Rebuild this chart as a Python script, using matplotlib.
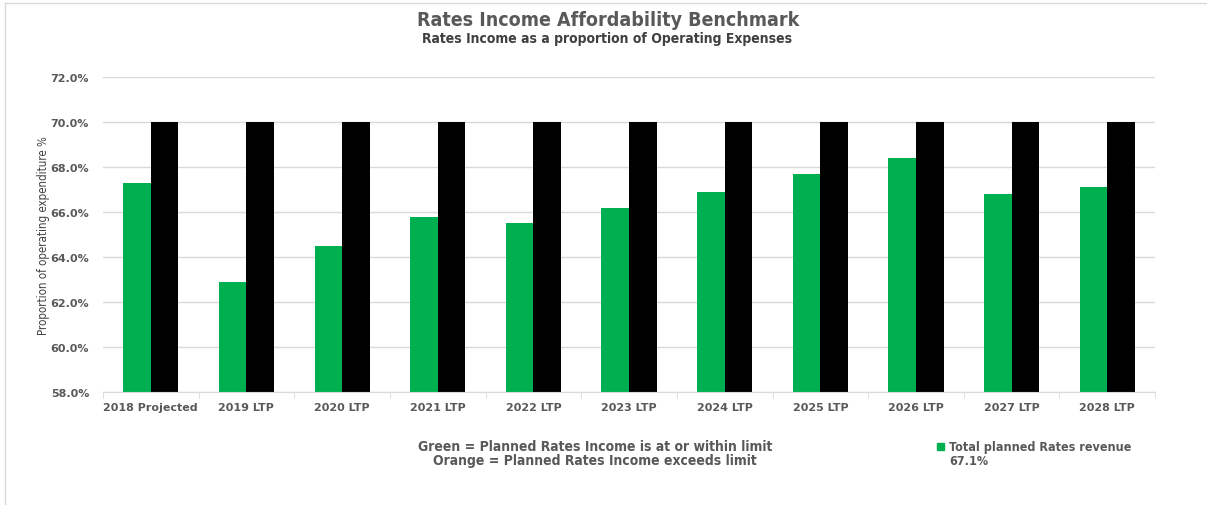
import matplotlib
matplotlib.use("Agg")
import matplotlib.pyplot as plt
from matplotlib.lines import Line2D
from matplotlib.patches import Rectangle
import numpy as np

categories = ["2018 Projected", "2019 LTP", "2020 LTP", "2021 LTP", "2022 LTP",
              "2023 LTP", "2024 LTP", "2025 LTP", "2026 LTP", "2027 LTP", "2028 LTP"]
planned_rates = [67.3, 62.9, 64.5, 65.8, 65.5, 66.2, 66.9, 67.7, 68.4, 66.8, 67.1]
limit = [70.0] * len(categories)
yticks = [58, 60, 62, 64, 66, 68, 70, 72]

GREEN = "#00b050"
TEXT = "#595959"
narrow = dict(family="DejaVu Sans", fontstretch="condensed")
wide = ["DejaVu Sans"]

fig = plt.figure(figsize=(12.07, 5.06), dpi=100)
ax = fig.add_axes([0.0853, 0.2233, 0.8717, 0.6225])

x = np.arange(len(categories))
w = 0.288
ax.bar(x - w / 2, np.array(planned_rates) - 58, bottom=58, width=w, color=GREEN, zorder=3)
ax.bar(x + w / 2, np.array(limit) - 58, bottom=58, width=w, color="black", zorder=3)

ax.set_xlim(-0.5, len(categories) - 0.5)
ax.set_ylim(58, 72)
ax.set_yticks(yticks)
ax.set_yticklabels([f"{v:.1f}%" for v in yticks], family=wide, fontsize=8,
                   fontweight="bold", color=TEXT)
ax.set_xticks(x)
ax.set_xticklabels(categories, family=wide, fontsize=8, fontweight="bold", color=TEXT)
ax.tick_params(axis="y", length=0, pad=10)
ax.tick_params(axis="x", length=0, pad=7)
ax.set_xticks(np.arange(-0.5, len(categories), 1.0), minor=True)
ax.tick_params(axis="x", which="minor", length=4, color="#d9d9d9")

ax.grid(axis="y", color="#d9d9d9", linewidth=1, zorder=0)
for s in ["top", "right", "left"]:
    ax.spines[s].set_visible(False)
ax.spines["bottom"].set_color("#d9d9d9")
ax.spines["bottom"].set_zorder(4)

ax.set_ylabel("Proportion of operating expenditure %", fontsize=8.3,
              color="#404040", labelpad=0, **narrow)

fig.text(0.504, 0.960, "Rates Income Affordability Benchmark", ha="center", va="center",
         fontsize=14, fontweight="bold", color=TEXT, **narrow)
fig.text(0.503, 0.923, "Rates Income as a proportion of Operating Expenses", ha="center",
         va="center", fontsize=10, fontweight="bold", color="#404040", **narrow)

fig.text(0.493, 0.117, "Green = Planned Rates Income is at or within limit", ha="center",
         va="center", fontsize=10, fontweight="bold", color=TEXT, **narrow)
fig.text(0.493, 0.088, "Orange = Planned Rates Income exceeds limit", ha="center",
         va="center", fontsize=10, fontweight="bold", color=TEXT, **narrow)

# legend-style key for the green series
fig.patches.append(Rectangle((0.7763, 0.108), 0.0058, 0.0138, transform=fig.transFigure,
                             color=GREEN))
fig.text(0.7862, 0.116, "Total planned Rates revenue", ha="left", va="center",
         fontsize=9, fontweight="bold", color=TEXT, **narrow)
fig.text(0.7862, 0.088, f"{planned_rates[-1]:.1f}%", ha="left", va="center",
         fontsize=9, fontweight="bold", color=TEXT, **narrow)

# outer frame lines (top and left)
fig.add_artist(Line2D([0.004, 1.0], [0.992, 0.992], transform=fig.transFigure,
                      color="#d9d9d9", linewidth=1))
fig.add_artist(Line2D([0.004, 0.004], [0.0, 0.992], transform=fig.transFigure,
                      color="#d9d9d9", linewidth=1))

fig.savefig("out.png", dpi=100, facecolor="white")
